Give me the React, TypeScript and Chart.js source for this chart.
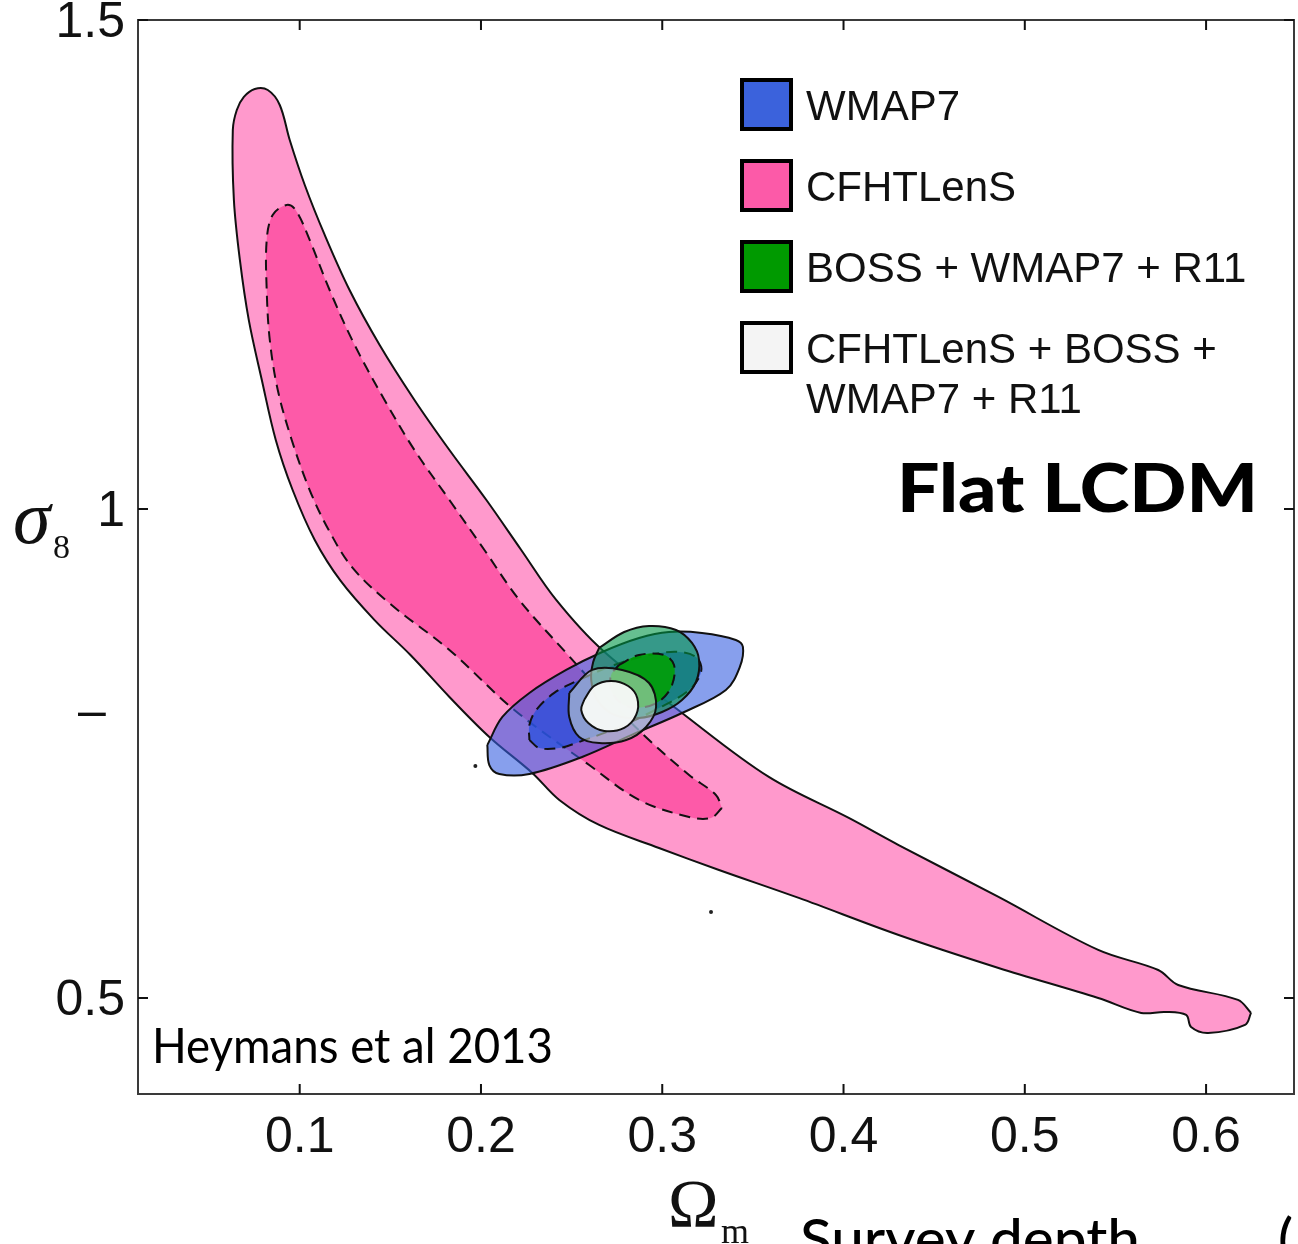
import React, { useEffect, useRef } from 'react';
import { Chart, registerables } from 'chart.js';

Chart.register(...registerables);

// ---- axes ----
const xTicks = [0.1, 0.2, 0.3, 0.4, 0.5, 0.6];
const yTicks = [0.5, 1, 1.5];
const xRange = [0.0108, 0.6485];
const yRange = [0.4018, 1.5];

// ---- legend ----
const seriesNames = ['WMAP7', 'CFHTLenS', 'BOSS + WMAP7 + R11', 'CFHTLenS + BOSS + WMAP7 + R11'];
const legendLines = [['WMAP7'], ['CFHTLenS'], ['BOSS + WMAP7 + R11'], ['CFHTLenS + BOSS +', 'WMAP7 + R11']];
const legendColors = ['#3b62dc', '#fc5aa8', '#009a00', '#f4f4f4'];

// ---- contours (Omega_m, sigma_8) ----
const cfhtOuter: [number, number][] = [
  [0.6248, 0.4847], [0.6215, 0.4724], [0.6011, 0.4642], [0.5917, 0.4703], [0.5890, 0.4826],
  [0.5774, 0.4857], [0.5642, 0.4847], [0.5405, 0.5000], [0.4855, 0.5307], [0.4304, 0.5644],
  [0.3753, 0.6023], [0.3313, 0.6309], [0.2982, 0.6534], [0.2652, 0.6769], [0.2432, 0.7025],
  [0.2283, 0.7301], [0.2046, 0.7669], [0.1826, 0.8078], [0.1611, 0.8507], [0.1413, 0.8864],
  [0.1226, 0.9264], [0.1083, 0.9683], [0.0961, 1.0194], [0.0868, 1.0706], [0.0791, 1.1319],
  [0.0719, 1.1933], [0.0670, 1.2546], [0.0637, 1.3160], [0.0631, 1.3875], [0.0653, 1.4080],
  [0.0692, 1.4213], [0.0752, 1.4294], [0.0824, 1.4284], [0.0890, 1.4131], [0.0945, 1.3773],
  [0.1028, 1.3313], [0.1138, 1.2802], [0.1275, 1.2239], [0.1441, 1.1677], [0.1633, 1.1115],
  [0.1826, 1.0603], [0.2030, 1.0092], [0.2222, 0.9581], [0.2415, 0.9070], [0.2669, 0.8558],
  [0.3109, 0.7914], [0.3588, 0.7260], [0.4029, 0.6841], [0.4304, 0.6564], [0.4855, 0.6033],
  [0.5405, 0.5491], [0.5736, 0.5286], [0.5846, 0.5133], [0.6176, 0.4980],
];
const cfhtInner: [number, number][] = [
  [0.3329, 0.6943], [0.3269, 0.6841], [0.3148, 0.6851], [0.2872, 0.7025], [0.2597, 0.7382],
  [0.2184, 0.7945], [0.1826, 0.8558], [0.1507, 0.9018], [0.1292, 0.9397], [0.1160, 0.9785],
  [0.1055, 1.0194], [0.0956, 1.0706], [0.0879, 1.1217], [0.0835, 1.1728], [0.0818, 1.2239],
  [0.0818, 1.2751], [0.0851, 1.3006], [0.0928, 1.3109], [0.0978, 1.3057], [0.1055, 1.2751],
  [0.1165, 1.2239], [0.1303, 1.1677], [0.1468, 1.1115], [0.1633, 1.0603], [0.1826, 1.0092],
  [0.2019, 0.9581], [0.2211, 0.9070], [0.2470, 0.8528], [0.2707, 0.8047], [0.2927, 0.7638],
  [0.3148, 0.7280], [0.3296, 0.7076],
];
const wmapOuter: [number, number][] = [
  [0.2035, 0.7587], [0.2046, 0.7382], [0.2101, 0.7290], [0.2267, 0.7290], [0.2558, 0.7464],
  [0.2856, 0.7710], [0.3109, 0.7914], [0.3351, 0.8149], [0.3428, 0.8385], [0.3445, 0.8589],
  [0.3406, 0.8661], [0.3219, 0.8732], [0.3037, 0.8742], [0.2872, 0.8681], [0.2669, 0.8538],
  [0.2470, 0.8354], [0.2267, 0.8119], [0.2118, 0.7873],
];
const wmapInner: [number, number][] = [
  [0.2267, 0.7638], [0.2322, 0.7556], [0.2432, 0.7556], [0.2542, 0.7618], [0.2762, 0.7771],
  [0.2982, 0.7965], [0.3148, 0.8149], [0.3214, 0.8333], [0.3192, 0.8477], [0.3093, 0.8538],
  [0.2927, 0.8507], [0.2735, 0.8405], [0.2542, 0.8252], [0.2404, 0.8119], [0.2305, 0.7945],
  [0.2267, 0.7791],
];
const bossOuter: [number, number][] = [
  [0.2652, 0.8579], [0.2790, 0.8742], [0.2927, 0.8804], [0.3076, 0.8763], [0.3164, 0.8630],
  [0.3203, 0.8456], [0.3186, 0.8231], [0.3109, 0.8047], [0.2999, 0.7924], [0.2872, 0.7863],
  [0.2735, 0.7894], [0.2641, 0.8047], [0.2608, 0.8252], [0.2619, 0.8436],
];
const bossInner: [number, number][] = [
  [0.2762, 0.8405], [0.2872, 0.8507], [0.3010, 0.8507], [0.3065, 0.8405], [0.3054, 0.8200],
  [0.2993, 0.8047], [0.2900, 0.7975], [0.2790, 0.7996], [0.2718, 0.8149], [0.2718, 0.8303],
];
const combOuter: [number, number][] = [
  [0.2487, 0.8119], [0.2613, 0.8354], [0.2779, 0.8354], [0.2927, 0.8221], [0.2966, 0.7975],
  [0.2911, 0.7771], [0.2801, 0.7638], [0.2652, 0.7607], [0.2542, 0.7669], [0.2487, 0.7873],
];
const combInner: [number, number][] = [
  [0.2569, 0.8047], [0.2624, 0.8190], [0.2718, 0.8241], [0.2812, 0.8190], [0.2862, 0.8068],
  [0.2856, 0.7894], [0.2790, 0.7761], [0.2680, 0.7730], [0.2592, 0.7812], [0.2553, 0.7945],
];
const strayDots: [number, number][] = [[0.1969, 0.7372], [0.3269, 0.588]];

const contourFills = [
  '#ff99cc', '#fd5aa8',
  'rgba(55,95,225,0.6)', 'rgba(40,80,220,0.75)',
  'rgba(0,150,70,0.6)', 'rgba(0,160,0,0.85)',
  'rgba(200,218,205,0.55)', 'rgba(246,248,246,0.97)',
];

const FONT_SANS = '"Liberation Sans", Arial, sans-serif';
const FONT_SERIF = '"Liberation Serif", "Times New Roman", serif';
const FONT_GILL = 'Lato, "Open Sans", sans-serif';

function fitText(ctx: CanvasRenderingContext2D, text: string, x: number, y: number, w: number) {
  const m = ctx.measureText(text).width;
  ctx.save();
  ctx.translate(x, y);
  ctx.scale(w / m, 1);
  ctx.fillText(text, 0, 0);
  ctx.restore();
}

const decorPlugin = {
  id: 'decor',
  afterDraw(chart: any) {
    const ctx: CanvasRenderingContext2D = chart.ctx;
    const { left, right, top, bottom } = chart.chartArea;
    const xs = chart.scales.x;
    const ys = chart.scales.y;
    ctx.save();
    // frame
    ctx.strokeStyle = '#3a3a3a';
    ctx.lineWidth = 2;
    ctx.strokeRect(left, top, right - left, bottom - top);
    // inward ticks
    ctx.strokeStyle = '#111';
    ctx.lineWidth = 2;
    ctx.beginPath();
    xs.ticks.forEach((t: any) => {
      const p = xs.getPixelForValue(t.value);
      ctx.moveTo(p, bottom); ctx.lineTo(p, bottom - 10);
      ctx.moveTo(p, top); ctx.lineTo(p, top + 10);
    });
    ys.ticks.forEach((t: any) => {
      const p = ys.getPixelForValue(t.value);
      ctx.moveTo(left, p); ctx.lineTo(left + 10, p);
      ctx.moveTo(right, p); ctx.lineTo(right - 10, p);
    });
    ctx.stroke();

    // legend
    const lx = 740, ly0 = 78, step = 81, bs = 53;
    ctx.font = `42px ${FONT_SANS}`;
    ctx.textBaseline = 'alphabetic';
    ctx.textAlign = 'left';
    legendLines.forEach((lines, i) => {
      const y = ly0 + i * step;
      ctx.fillStyle = legendColors[i];
      ctx.fillRect(lx, y, bs, bs);
      ctx.strokeStyle = '#000';
      ctx.lineWidth = 4;
      ctx.strokeRect(lx + 2, y + 2, bs - 4, bs - 4);
      ctx.fillStyle = '#111';
      lines.forEach((ln, j) => ctx.fillText(ln, 806, y + 42 + j * 50));
    });

    // annotations
    ctx.fillStyle = '#000';
    ctx.font = `900 66px ${FONT_GILL}`;
    fitText(ctx, 'Flat LCDM', 897, 512, 361);
    ctx.font = `400 49px ${FONT_GILL}`;
    fitText(ctx, 'Heymans et al 2013', 152, 1063, 401);
    ctx.font = `500 56px ${FONT_GILL}`;
    fitText(ctx, 'Survey depth', 800, 1259, 340);
    ctx.fillText('(', 1278, 1259);

    // axis titles
    ctx.fillStyle = '#111';
    ctx.font = `italic 76px ${FONT_SERIF}`;
    ctx.fillText('σ', 13, 543);
    ctx.font = `34px ${FONT_SERIF}`;
    ctx.fillText('8', 53, 558);
    ctx.font = `68px ${FONT_SERIF}`;
    ctx.fillText('Ω', 668, 1226);
    ctx.font = `36px ${FONT_SERIF}`;
    ctx.fillText('m', 721, 1243);
    // stray dash on left
    ctx.font = `50px ${FONT_SANS}`;
    ctx.textBaseline = 'middle';
    ctx.fillText('–', 78, 713);
    ctx.restore();
  },
};

function contour(label: string, pts: [number, number][], fill: string, dashed: boolean, order: number) {
  return {
    type: 'line' as const,
    label,
    data: pts.concat([pts[0]]).map(([x, y]) => ({ x, y })),
    borderColor: '#111',
    borderWidth: 2,
    borderDash: dashed ? [11, 7] : [],
    backgroundColor: fill,
    fill: 'shape',
    tension: 0.35,
    pointRadius: 0,
    order,
  };
}

export default function App() {
  const ref = useRef<HTMLCanvasElement>(null);
  useEffect(() => {
    document.body.style.margin = '0';
    const canvas = ref.current!;
    const datasets: any[] = [
      contour(seriesNames[1], cfhtOuter, contourFills[0], false, 9),
      contour(seriesNames[1], cfhtInner, contourFills[1], true, 8),
      contour(seriesNames[0], wmapOuter, contourFills[2], false, 7),
      contour(seriesNames[0], wmapInner, contourFills[3], true, 6),
      contour(seriesNames[2], bossOuter, contourFills[4], false, 5),
      contour(seriesNames[2], bossInner, contourFills[5], true, 4),
      contour(seriesNames[3], combOuter, contourFills[6], false, 3),
      contour(seriesNames[3], combInner, contourFills[7], false, 2),
      {
        type: 'line',
        label: 'dots',
        data: strayDots.map(([x, y]) => ({ x, y })),
        showLine: false,
        pointRadius: 2,
        pointBackgroundColor: '#222',
        pointBorderWidth: 0,
        order: 1,
      },
    ];
    const chart = new Chart(canvas, {
      type: 'line',
      data: { datasets },
      plugins: [decorPlugin],
      options: {
        animation: false,
        responsive: false,
        events: [],
        layout: { padding: { top: 20, right: 2, left: 0, bottom: 0 } },
        plugins: { legend: { display: false }, tooltip: { enabled: false } },
        scales: {
          x: {
            type: 'linear',
            min: xRange[0],
            max: xRange[1],
            grid: { display: false, drawTicks: false },
            border: { display: false },
            afterBuildTicks: (s: any) => { s.ticks = xTicks.map((v) => ({ value: v })); },
            afterFit: (s: any) => { s.height = 150; s.paddingLeft = 0; s.paddingRight = 0; },
            ticks: {
              padding: 14,
              color: '#111',
              font: { family: FONT_SANS, size: 50 },
              callback: (v: any) => String(v),
              maxRotation: 0,
              autoSkip: false,
            },
          },
          y: {
            type: 'linear',
            min: yRange[0],
            max: yRange[1],
            grid: { display: false, drawTicks: false },
            border: { display: false },
            afterBuildTicks: (s: any) => { s.ticks = yTicks.map((v) => ({ value: v })); },
            afterFit: (s: any) => { s.width = 138; s.paddingTop = 0; s.paddingBottom = 0; },
            ticks: {
              padding: 13,
              labelOffset: 3,
              color: '#111',
              font: { family: FONT_SANS, size: 50 },
              callback: (v: any) => String(v),
              autoSkip: false,
            },
          },
        },
      } as any,
    });
    return () => chart.destroy();
  }, []);
  return (
    <canvas ref={ref} width={1298} height={1244} style={{ display: 'block', width: 1298, height: 1244 }} />
  );
}
